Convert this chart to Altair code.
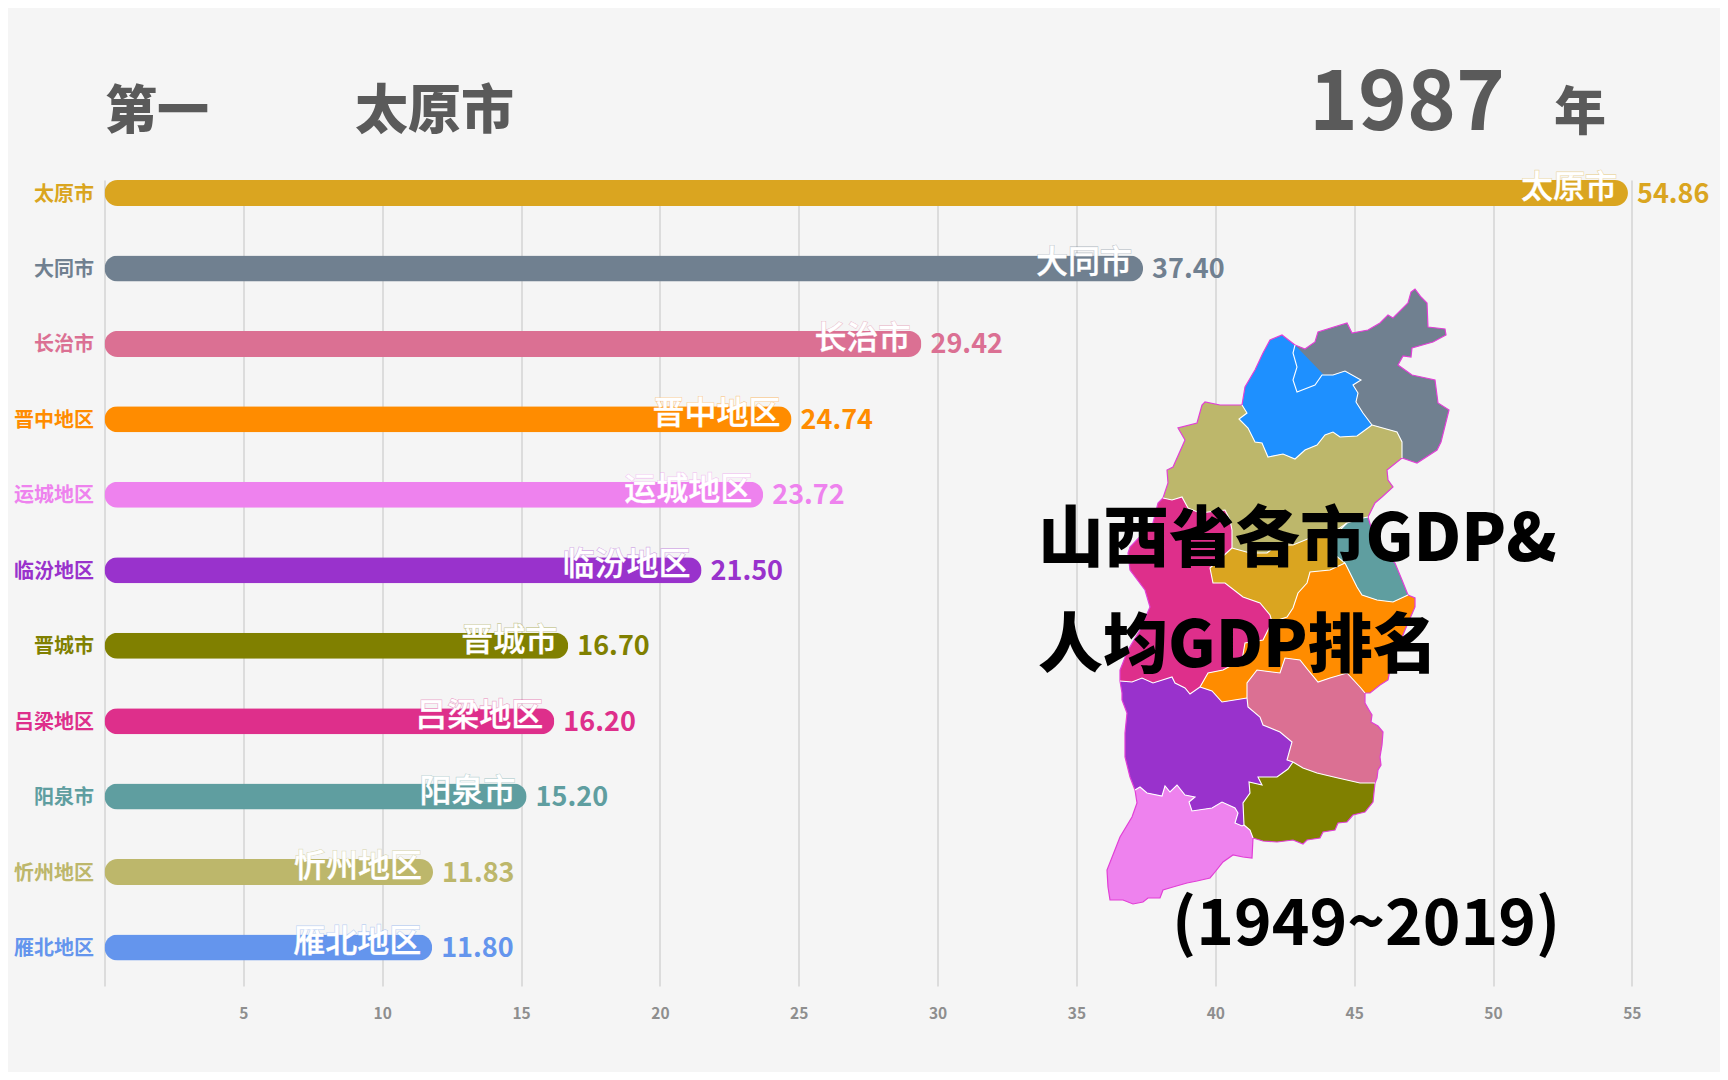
import json
import altair as alt
import pandas as pd

CJK = "Noto Sans CJK SC"
BG = "#f5f5f5"
GRAY = "#5a5a5a"

cities = ["太原市", "大同市", "长治市", "晋中地区", "运城地区", "临汾地区", "晋城市", "吕梁地区", "阳泉市", "忻州地区", "雁北地区"]
values = [54.86, 37.40, 29.42, 24.74, 23.72, 21.50, 16.70, 16.20, 15.20, 11.83, 11.80]
colors = ["#DAA520", "#708090", "#DB7093", "#FF8C00", "#EE82EE", "#9932CC", "#808000", "#DE2F8B", "#5F9EA0", "#BDB76B", "#6495ED"]
ticks = [0, 5, 10, 15, 20, 25, 30, 35, 40, 45, 50, 55]

# --- map outline (shared boundary arcs) ---
dt_outer = [(1295,345),(1305,349),(1315,342),(1318,332),(1347,323),(1352,333),(1368,330),(1380,323),(1388,315),(1393,318),(1408,303),(1411,292),(1415,289),(1421,297),(1427,303),(1428,327),(1445,329),(1446,335),(1433,342),(1412,348),(1411,357),(1403,356),(1398,365),(1412,375),(1435,380),(1438,403),(1449,410),(1441,442),(1437,450),(1417,463),(1402,458)]
dt_kh = [(1402,458),(1402,442),(1397,432),(1372,425)]
dt_sz = [(1372,425),(1363,413),(1356,402),(1358,393),(1353,385),(1361,380),(1345,371),(1333,375),(1322,375),(1315,385),(1297,392),(1293,380),(1297,367),(1293,353),(1295,345)]
sz_outer = [(1295,345),(1282,335),(1270,340),(1263,353),(1255,370),(1245,387),(1242,405)]
sz_kh = [(1242,405),(1247,413),(1239,419),(1248,428),(1255,442),(1262,443),(1268,457),(1283,454),(1295,459),(1305,450),(1317,445),(1325,435),(1333,432),(1340,437),(1357,436),(1372,425)]
kh_west = [(1242,405),(1220,405),(1205,402),(1202,405),(1197,423),(1178,428),(1185,440),(1173,467),(1167,470),(1168,483),(1163,498)]
kh_mg = [(1163,498),(1172,500),(1182,497),(1188,508),(1200,513),(1225,510),(1230,520),(1232,530),(1232,548)]
kh_gd = [(1232,548),(1250,553),(1267,553),(1277,545),(1293,545),(1310,538),(1333,533),(1347,523)]
kh_tl = [(1347,523),(1363,518),(1368,517)]
kh_east = [(1368,517),(1375,503),(1382,497),(1393,487),(1388,480),(1387,470),(1402,458)]
tl_east = [(1368,517),(1377,547),(1395,563),(1402,580),(1408,595)]
tl_or = [(1408,595),(1393,602),(1377,600),(1362,595),(1357,587),(1352,577),(1345,563)]
tl_gd = [(1345,563),(1335,555),(1330,540),(1340,530),(1347,523)]
gd_or = [(1345,563),(1330,570),(1310,572),(1307,583),(1298,593),(1293,608),(1287,617),(1272,622)]
mg_gd = [(1232,548),(1210,568),(1213,583),(1225,583),(1243,597),(1260,603),(1270,615),(1272,622)]
mg_or = [(1272,622),(1263,640),(1245,643),(1242,660),(1223,670),(1208,673),(1200,687)]
mg_west = [(1163,498),(1158,503),(1153,523),(1130,547),(1128,553),(1130,570),(1145,590),(1150,607),(1140,630),(1128,650),(1120,670),(1120,681)]
mg_pl = [(1120,681),(1132,682),(1142,678),(1153,683),(1172,677),(1175,683),(1185,688),(1190,694),(1200,687)]
or_east = [(1408,595),(1415,598),(1415,607),(1405,630),(1395,655),(1390,670),(1388,680),(1380,685),(1370,693),(1365,693)]
or_pk = [(1365,693),(1360,687),(1347,673),(1330,678),(1318,682),(1308,670),(1300,660),(1285,658),(1280,673),(1257,670),(1247,683),(1247,698)]
or_pl = [(1200,687),(1212,691),(1222,702),(1247,698)]
pl_west = [(1120,681),(1122,693),(1122,700),(1127,713),(1125,733),(1125,757),(1130,777),(1135,790)]
pl_vt = [(1135,790),(1140,787),(1147,793),(1162,796),(1165,786),(1170,792),(1177,785),(1185,795),(1195,797),(1189,802),(1192,811),(1212,808),(1222,802),(1235,808),(1238,813),(1235,823),(1242,826),(1244,825)]
pl_ol = [(1244,825),(1243,803),(1250,793),(1249,782),(1262,785),(1258,777),(1277,777),(1288,769),(1293,762)]
pl_pk = [(1293,762),(1287,760),(1292,742),(1280,732),(1263,725),(1260,717),(1248,707),(1247,698)]
pk_ol = [(1293,762),(1303,768),(1317,773),(1338,778),(1360,783),(1375,783)]
pk_east = [(1365,693),(1365,703),(1369,710),(1372,715),(1371,722),(1378,726),(1383,732),(1382,745),(1380,757),(1381,765),(1378,770),(1377,778),(1375,783)]
ol_south = [(1375,783),(1373,802),(1365,812),(1353,815),(1347,822),(1338,823),(1335,830),(1323,832),(1320,838),(1307,840),(1303,844),(1293,840),(1277,842),(1263,841),(1253,838)]
ol_vt = [(1253,838),(1250,830),(1244,825)]
vt_outer = [(1253,838),(1252,858),(1243,857),(1233,855),(1223,862),(1215,872),(1210,878),(1197,881),(1187,883),(1173,887),(1163,890),(1160,898),(1148,898),(1143,902),(1133,904),(1123,900),(1110,900),(1108,887),(1107,870),(1120,837),(1132,817),(1137,803),(1135,790)]

def ring(*arcs):
    pts = []
    for a in arcs:
        pts.extend(list(a))
    pts.append(pts[0])
    return [list(p) for p in pts]

r = lambda a: a[::-1]
regions = [
    ("大同", "#708090", ring(dt_outer, dt_kh, dt_sz)),
    ("雁北", "#1E90FF", ring(sz_outer, sz_kh, r(dt_sz))),
    ("忻州", "#BDB76B", ring(kh_west, kh_mg, kh_gd, kh_tl, kh_east, dt_kh, r(sz_kh))),
    ("阳泉", "#5F9EA0", ring(kh_tl, tl_east, tl_or, tl_gd)),
    ("太原", "#DAA520", ring(kh_gd, r(tl_gd), gd_or, r(mg_gd))),
    ("吕梁", "#DE2F8B", ring(kh_mg, mg_gd, mg_or, r(mg_pl), r(mg_west))),
    ("晋中", "#FF8C00", ring(gd_or, mg_or, or_pl, r(or_pk), r(or_east), tl_or)),
    ("长治", "#DB7093", ring(or_pk, r(pl_pk), pk_ol, r(pk_east))),
    ("临汾", "#9932CC", ring(pl_west, pl_vt, pl_ol, pl_pk, r(or_pl), r(mg_pl))),
    ("晋城", "#808000", ring(pk_ol, ol_south, ol_vt, pl_ol)),
    ("运城", "#EE82EE", ring(vt_outer, pl_vt, r(ol_vt))),
]
outer_arcs = [dt_outer, sz_outer, kh_west, kh_east, tl_east, mg_west, or_east, pl_west, pk_east, ol_south, vt_outer]
inner_arcs = [dt_kh, dt_sz, sz_kh, kh_mg, kh_gd, kh_tl, tl_or, tl_gd, gd_or, mg_gd, mg_or, mg_pl, or_pk, or_pl, pl_vt, pl_ol, pl_pk, pk_ol, ol_vt]

features = [{"type": "Feature", "properties": {"name": n, "fillc": c},
             "geometry": {"type": "Polygon", "coordinates": [p]}} for n, c, p in regions]
def lines(arcs):
    return [{"type": "Feature", "properties": {},
             "geometry": {"type": "LineString", "coordinates": [list(p) for p in a]}} for a in arcs]

# --- layout: plot area in page pixels (x 104.5.., y 180..986), page margin 8 ---
X0, Y0 = 104.5, 180
PX_PER_UNIT = 27.77
W = 1720 - X0
H = 806
xscale = alt.Scale(domain=[0, W / PX_PER_UNIT], nice=False, zero=False)
yscale = alt.Scale(type="band", domain=cities, paddingInner=0.655, paddingOuter=0.169, align=0)

df = pd.DataFrame({"city": cities, "value": values, "color": colors})
base = alt.Chart(df)
label_expr = json.dumps(dict(zip(cities, colors)), ensure_ascii=False) + "[datum.label]"
x = alt.X("value:Q", scale=xscale, title=None,
          axis=alt.Axis(values=ticks, grid=True, gridColor="#cbcbcb", gridWidth=1.2, domain=False, ticks=False,
                        labelFont=CJK, labelFontSize=15.5, labelFontWeight="bold", labelColor="#8e8e8e",
                        labelPadding=20, labelExpr="datum.value == 0 ? '' : datum.label", labelOverlap=False))
y = alt.Y("city:N", scale=yscale, sort=cities, title=None,
          axis=alt.Axis(domain=False, ticks=False, grid=False, labelFont=CJK, labelFontSize=20,
                        labelFontWeight="bold", labelPadding=11, labelOffset=1.5, labelColor=alt.expr(label_expr)))
fillc = alt.Color("color:N", scale=None)

bars = base.mark_bar(cornerRadius=13).encode(x=x, y=y, color=fillc)
halo = base.mark_text(align="right", baseline="middle", dx=-11, dy=-5, font=CJK, fontSize=32,
                      fontWeight=500, strokeWidth=1.6, strokeOpacity=0.4, fillOpacity=0).encode(
    x="value:Q", y="city:N", text="city:N", stroke=alt.Stroke("color:N", scale=None))
names = base.mark_text(align="right", baseline="middle", dx=-11, dy=-5, font=CJK, fontSize=32,
                       fontWeight=500, fill="white", stroke="white", strokeWidth=0.3).encode(
    x="value:Q", y="city:N", text="city:N")
nums = base.mark_text(align="left", baseline="middle", dx=9, dy=1.5, font=CJK, fontSize=27,
                      fontWeight="bold").encode(x="value:Q", y="city:N", text=alt.Text("value:Q", format=".2f"), color=fillc)

proj = alt.Projection(type="identity", scale=1, translate=[-X0, -Y0])
geo = alt.Chart(alt.Data(values=features)).mark_geoshape(strokeWidth=0).encode(
    fill=alt.Fill("properties.fillc:N", scale=None)).project(**proj.to_dict())
border_out = alt.Chart(alt.Data(values=lines(outer_arcs))).mark_geoshape(filled=False, stroke="#E13FD6", strokeWidth=1.2).project(**proj.to_dict())
border_in = alt.Chart(alt.Data(values=lines(inner_arcs))).mark_geoshape(filled=False, stroke="#FFFFFF", strokeWidth=1.1).project(**proj.to_dict())

one = pd.DataFrame({"a": [0]})
def note(text, px, py, size, color, weight="bold", align="left"):
    return alt.Chart(one).mark_text(align=align, baseline="middle", font=CJK, fontSize=size, fontWeight=weight, color=color).encode(
        x=alt.value(px - X0), y=alt.value(py - Y0), text=alt.value(text))

notes = [
    note("第一", 105, 113, 52, GRAY, 900),
    note("太原市", 355, 113, 53, GRAY, 900),
    note("1987", 1309, 105, 83, GRAY, "bold"),
    note("年", 1554, 114, 52, GRAY, 900),
    note("山西省各市GDP&", 1038, 541, 65.5, "#000000", 900),
    note("人均GDP排名", 1038, 647, 65, "#000000", 900),
    note("(1949~2019)", 1172, 926, 64, "#000000", 700),
]

chart = alt.layer(bars, halo, names, nums, geo, border_out, border_in, *notes).properties(
    width=W, height=H, background=BG,
    padding={"left": X0 - 8, "top": Y0 - 8, "right": 0, "bottom": 1064 - (Y0 - 8) - H},
    autosize=alt.AutoSizeParams(type="none"),
).configure_view(stroke=None)

chart.save("out.html", embed_options={"renderer": "svg", "actions": False})
